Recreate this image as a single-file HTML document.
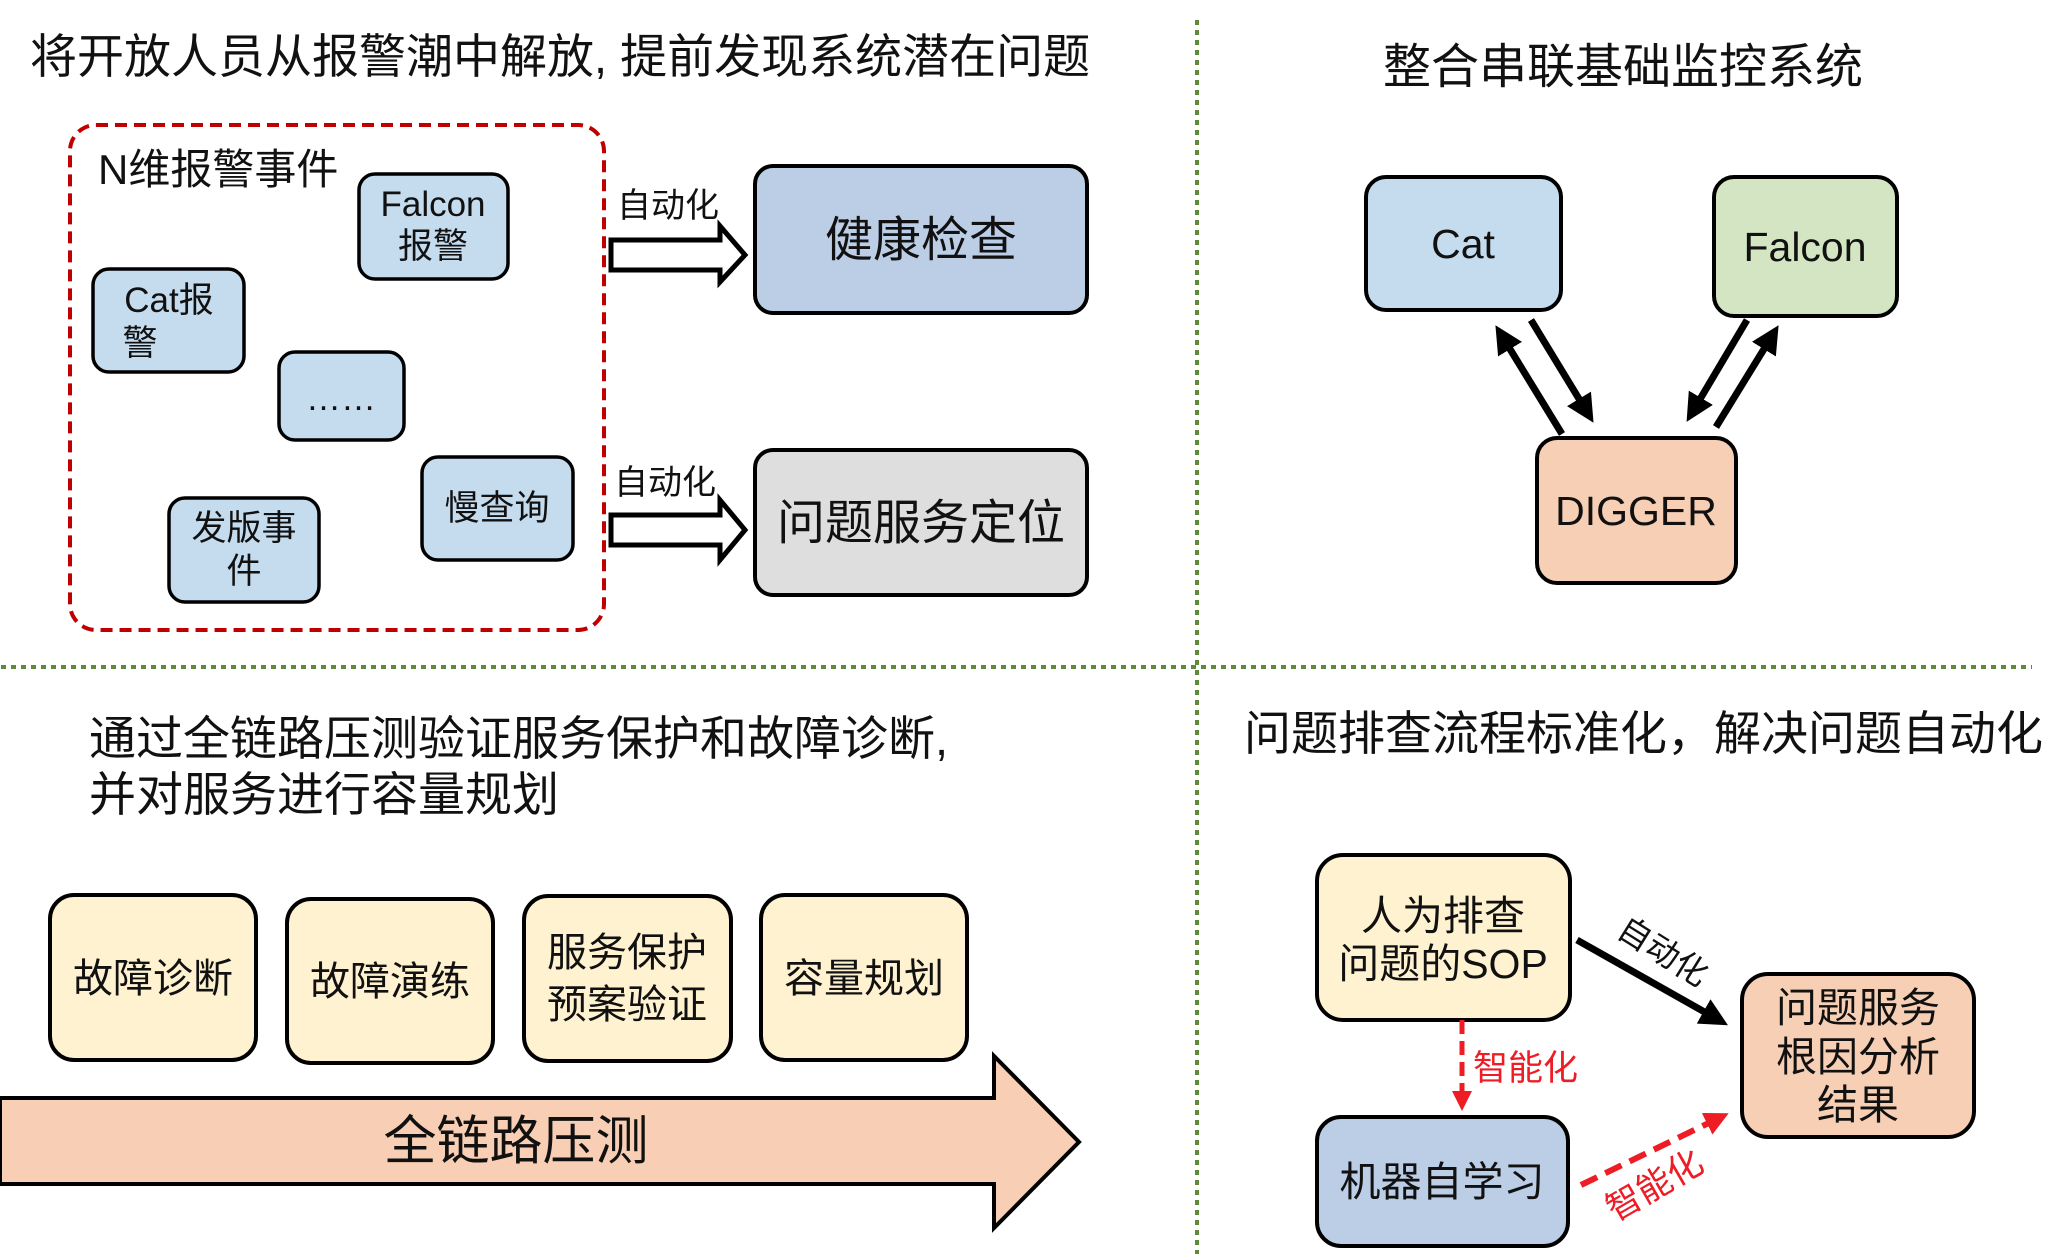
<!DOCTYPE html>
<html><head><meta charset="utf-8"><style>
html,body{margin:0;padding:0;background:#fff;}
svg{display:block;}
text{font-family:"Liberation Sans","Noto Sans CJK SC",sans-serif;fill:#111;}
</style></head><body>
<svg width="2060" height="1254" viewBox="0 0 2060 1254" xmlns="http://www.w3.org/2000/svg">
<defs>
<marker id="ab" markerWidth="4" markerHeight="4" refX="2.2" refY="2" orient="auto" markerUnits="strokeWidth"><path d="M0,0 L4,2 L0,4 z" fill="#000"/></marker>
<marker id="ar" markerWidth="4" markerHeight="4" refX="2.2" refY="2" orient="auto" markerUnits="strokeWidth"><path d="M0,0 L4,2 L0,4 z" fill="#ee1c25"/></marker>
</defs>
<g transform="translate(-3,0)">
<!-- dividers -->
<line x1="1200" y1="20" x2="1200" y2="1254" stroke="#5e8a3a" stroke-width="4" stroke-dasharray="5,5"/>
<line x1="4" y1="667" x2="2035" y2="667" stroke="#5e8a3a" stroke-width="4" stroke-dasharray="5,5"/>

<!-- Q1 -->
<text x="33" y="73" font-size="47">将开放人员从报警潮中解放, 提前发现系统潜在问题</text>
<rect x="73" y="125" width="534" height="505" rx="26" fill="none" stroke="#c00000" stroke-width="4" stroke-dasharray="12,7"/>
<text x="101" y="184" font-size="42">N维报警事件</text>
<g stroke="#000" stroke-width="3.5" fill="#c5dbee">
<rect x="362" y="174" width="149" height="105" rx="16"/>
<rect x="96" y="269" width="151" height="103" rx="16"/>
<rect x="282" y="352" width="125" height="88" rx="16"/>
<rect x="425" y="457" width="151" height="103" rx="16"/>
<rect x="172" y="498" width="150" height="104" rx="16"/>
</g>
<g font-size="35" text-anchor="middle">
<text x="436" y="216">Falcon</text><text x="436" y="258">报警</text>
<text x="172" y="312">Cat报</text><text x="143" y="355">警</text>
<text x="344" y="410">……</text>
<text x="500" y="520">慢查询</text>
<text x="247" y="540">发版事</text><text x="247" y="583">件</text>
</g>
<!-- hollow arrows -->
<path d="M614,240 L723,240 L723,226 L748,255 L723,282 L723,270 L614,270 Z" fill="#fff" stroke="#000" stroke-width="5" stroke-linejoin="miter"/>
<path d="M614,515 L723,515 L723,500 L748,530 L723,560 L723,545 L614,545 Z" fill="#fff" stroke="#000" stroke-width="5"/>
<text x="620" y="217" font-size="34">自动化</text>
<text x="617" y="494" font-size="34">自动化</text>
<rect x="758" y="166" width="332" height="147" rx="18" fill="#bccde6" stroke="#000" stroke-width="4"/>
<text x="924" y="256" font-size="48" text-anchor="middle">健康检查</text>
<rect x="758" y="450" width="332" height="145" rx="18" fill="#dedede" stroke="#000" stroke-width="4"/>
<text x="924" y="539" font-size="48" text-anchor="middle">问题服务定位</text>

<!-- Q2 -->
<text x="1626" y="83" font-size="48" text-anchor="middle">整合串联基础监控系统</text>
<rect x="1369" y="177" width="195" height="133" rx="20" fill="#c5dbee" stroke="#000" stroke-width="4"/>
<text x="1466" y="258" font-size="41" text-anchor="middle">Cat</text>
<rect x="1717" y="177" width="183" height="139" rx="20" fill="#d3e5c2" stroke="#000" stroke-width="4"/>
<text x="1808" y="261" font-size="41" text-anchor="middle">Falcon</text>
<rect x="1540" y="438" width="199" height="145" rx="20" fill="#f7cfb4" stroke="#000" stroke-width="4"/>
<text x="1639" y="525" font-size="41" text-anchor="middle">DIGGER</text>
<g stroke="#000" stroke-width="7" marker-end="url(#ab)">
<line x1="1565" y1="434" x2="1505" y2="336"/>
<line x1="1534" y1="320" x2="1590" y2="412"/>
<line x1="1750" y1="320" x2="1696" y2="411"/>
<line x1="1719" y1="427" x2="1775" y2="336"/>
</g>

<!-- Q3 -->
<text x="92" y="755" font-size="47">通过全链路压测验证服务保护和故障诊断,</text>
<text x="92" y="811" font-size="47">并对服务进行容量规划</text>
<g stroke="#000" stroke-width="4" fill="#fff2d0">
<rect x="53" y="895" width="206" height="165" rx="24"/>
<rect x="290" y="899" width="206" height="164" rx="24"/>
<rect x="527" y="896" width="207" height="165" rx="24"/>
<rect x="764" y="895" width="206" height="165" rx="24"/>
</g>
<g font-size="40" text-anchor="middle">
<text x="156" y="992">故障诊断</text>
<text x="393" y="995">故障演练</text>
<text x="630" y="966">服务保护</text>
<text x="630" y="1018">预案验证</text>
<text x="867" y="992">容量规划</text>
</g>
<path d="M3,1098 L997,1098 L997,1056 L1082,1142 L997,1228 L997,1184 L3,1184 Z" fill="#f8cfb5" stroke="#000" stroke-width="4"/>
<text x="519" y="1159" font-size="53" text-anchor="middle">全链路压测</text>

<!-- Q4 -->
<text x="1247" y="750" font-size="47">问题排查流程标准化，解决问题自动化</text>
<rect x="1320" y="855" width="253" height="165" rx="26" fill="#fff2d0" stroke="#000" stroke-width="4"/>
<text x="1446" y="930" font-size="41" text-anchor="middle">人为排查</text>
<text x="1446" y="978" font-size="41" text-anchor="middle">问题的SOP</text>
<rect x="1320" y="1117" width="251" height="129" rx="24" fill="#bccde6" stroke="#000" stroke-width="4"/>
<text x="1445" y="1196" font-size="41" text-anchor="middle">机器自学习</text>
<rect x="1745" y="974" width="232" height="163" rx="26" fill="#f7cfb4" stroke="#000" stroke-width="4"/>
<g font-size="41" text-anchor="middle">
<text x="1861" y="1022">问题服务</text>
<text x="1861" y="1071">根因分析</text>
<text x="1861" y="1119">结果</text>
</g>
<line x1="1580" y1="940" x2="1720" y2="1019" stroke="#000" stroke-width="7" marker-end="url(#ab)"/>
<text x="0" y="0" font-size="33" transform="translate(1618,935) rotate(32)">自动化</text>
<line x1="1465" y1="1020" x2="1465" y2="1102" stroke="#ee1c25" stroke-width="5" stroke-dasharray="14,7" marker-end="url(#ar)"/>
<text x="1476" y="1080" font-size="35" style="fill:#ee1c25">智能化</text>
<line x1="1584" y1="1185" x2="1722" y2="1118" stroke="#ee1c25" stroke-width="6" stroke-dasharray="18,9" marker-end="url(#ar)"/>
<text x="0" y="0" font-size="35" transform="translate(1618,1222) rotate(-30)" style="fill:#ee1c25">智能化</text>
</g>
</svg>
</body></html>
